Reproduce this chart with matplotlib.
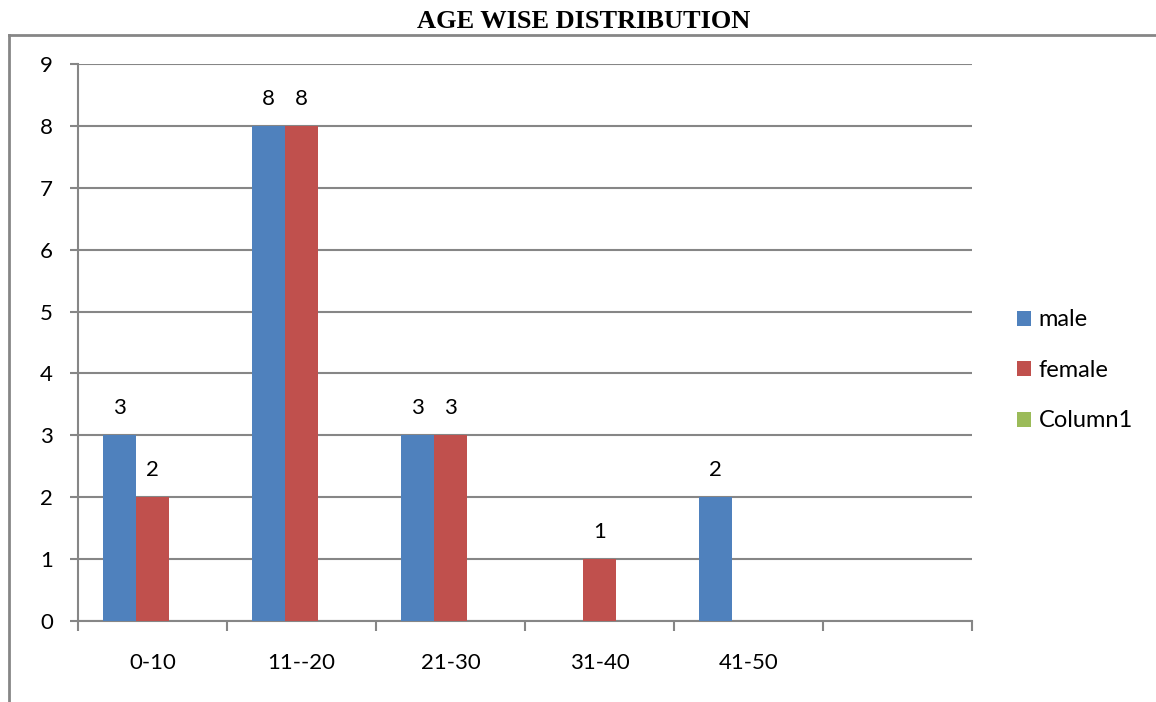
import numpy as np
import matplotlib.pyplot as plt
from matplotlib.lines import Line2D

categories = ['0-10', '11--20', '21-30', '31-40', '41-50', '']
male = [3, 8, 3, 0, 2, 0]
female = [2, 8, 3, 1, 0, 0]
column1 = [0, 0, 0, 0, 0, 0]
series_names = ['male', 'female', 'Column1']
colors = ['#4F81BD', '#C0504D', '#9BBB59']

plt.rcParams['font.family'] = ['Lato', 'DejaVu Sans']
grey = '#868686'
fs = 16

fig = plt.figure(figsize=(11.56, 7.02), dpi=100)
ax = fig.add_axes([0.0675, 0.1154, 0.7734, 0.7934])

# outer chart frame (only left and top edges show)
fig.add_artist(Line2D([0.0078, 0.0078], [0.0, 0.95], transform=fig.transFigure, color=grey, lw=2))
fig.add_artist(Line2D([0.0078, 1.0], [0.95, 0.95], transform=fig.transFigure, color=grey, lw=2))

fig.text(0.505, 0.97, 'AGE WISE DISTRIBUTION', ha='center', va='center',
         family='Liberation Serif', fontweight='bold', fontsize=19)

x = np.arange(len(categories))
w = 0.221
for s, (vals, name, c) in enumerate(zip([male, female, column1], series_names, colors)):
    pos = x + 0.5 + (s - 1) * w
    ax.bar(pos, vals, width=w, color=c, label=name, zorder=3)
    for p, v in zip(pos, vals):
        if v > 0:
            ax.annotate(str(v), (p, v), xytext=(0, 27), textcoords='offset pixels',
                        ha='center', va='center', fontsize=fs)

ax.set_xlim(0, len(categories))
ax.set_ylim(0, 9)
ax.set_yticks(range(10))
ax.set_xticks(range(len(categories) + 1))
ax.set_xticklabels([])
ax.set_xticks(x + 0.5, minor=True)
ax.set_xticklabels(categories, minor=True)
ax.tick_params(axis='x', which='minor', length=0, pad=23, labelsize=fs)
ax.tick_params(axis='x', which='major', length=7, width=1.5, color=grey)
ax.tick_params(axis='y', length=6, width=1.5, color=grey, pad=12, labelsize=fs)

ax.grid(axis='y', color=grey, lw=1.5, zorder=0)
for side in ['top', 'right']:
    ax.spines[side].set_visible(False)
for side in ['left', 'bottom']:
    ax.spines[side].set_color(grey)
    ax.spines[side].set_linewidth(1.5)

ax.legend(loc='center left', bbox_to_anchor=(1.04, 0.45), frameon=False, borderaxespad=0,
          handlelength=0.6, handleheight=0.6, handletextpad=0.3, labelspacing=1.25,
          fontsize=17)

fig.savefig('out.png', dpi=100)
